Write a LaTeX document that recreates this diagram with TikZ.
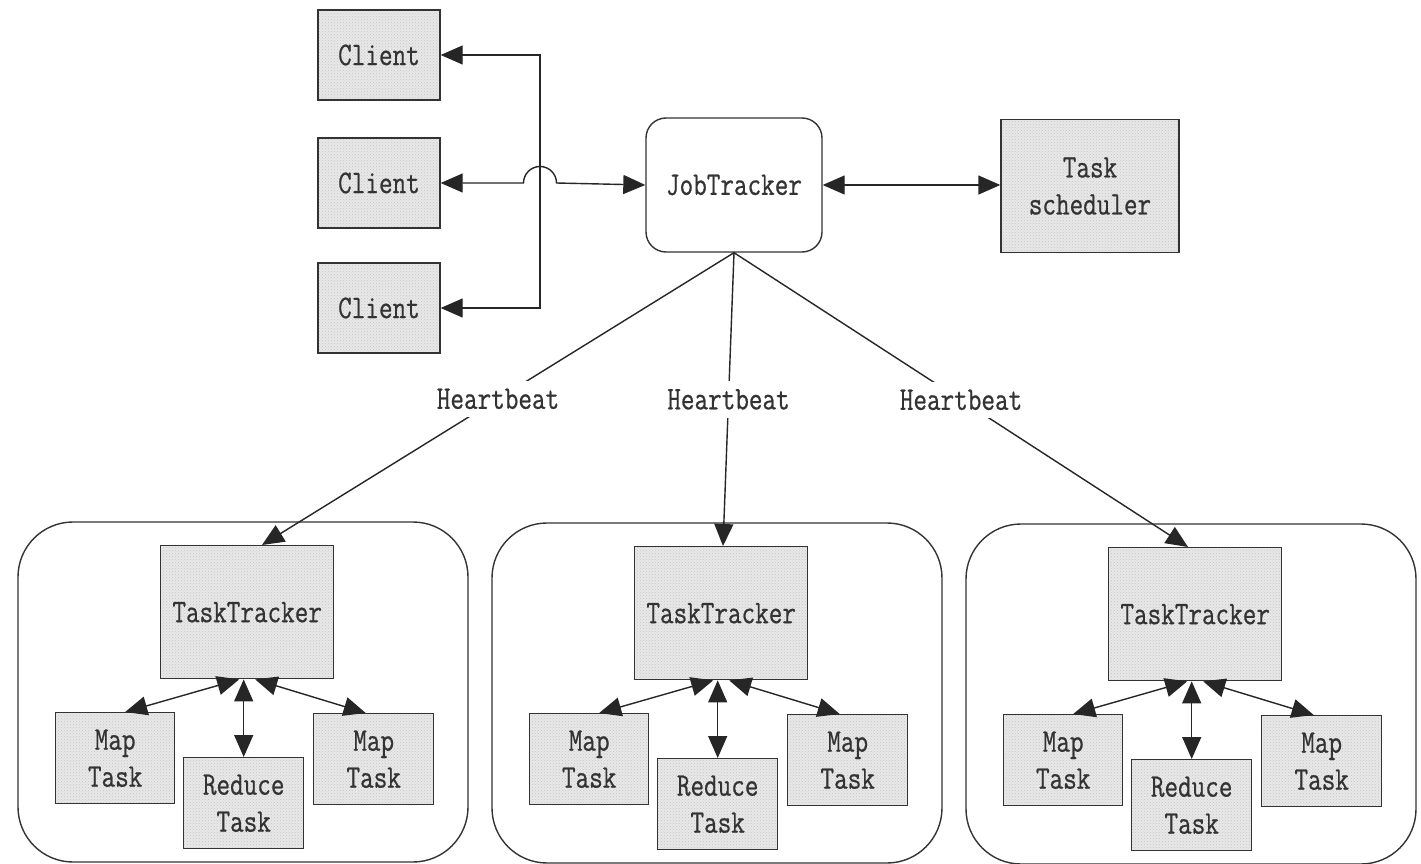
\documentclass[tikz,border=0pt]{standalone}
\usepackage{fontspec}
\setmonofont[FakeStretch=0.8,FakeBold=0.6]{Latin Modern Mono}
\usetikzlibrary{arrows.meta,patterns}
\tikzset{
  txt/.style={font=\ttfamily\fontsize{33}{37}\selectfont, text=black!80, align=center},
  gbox/.style={txt, draw=black!80, line width=1.4pt, preaction={fill=black!9},
    pattern=crosshatch dots, pattern color=black!22, inner sep=0pt},
  rbox/.style={txt, draw=black!80, line width=1.4pt, rounded corners=20pt, fill=white, inner sep=0pt},
  grp/.style={draw=black!80, line width=1.4pt, rounded corners=55pt},
  con/.style={draw=black!85, line width=1.4pt},
  arr/.style={con, -{Triangle[length=22pt,width=19pt]}},
  dbl/.style={con, {Triangle[length=22pt,width=19pt]}-{Triangle[length=22pt,width=19pt]}},
  hb/.style={txt, fill=white, inner xsep=1pt, inner ysep=8pt},
}
\newcommand{\tgroup}[3]{%
  \draw[grp] (#2-142,#3-23) rectangle (#2+308,#3+317);
  \node[gbox, minimum width=173pt, minimum height=133pt, anchor=north west] (#1tt) at (#2,#3) {TaskTracker};
  \node[gbox, minimum width=119pt, minimum height=91pt, anchor=north west] (#1ml) at (#2-105,#3+167) {Map\\Task};
  \node[gbox, minimum width=120pt, minimum height=91pt, anchor=north west] (#1rd) at (#2+23,#3+212) {Reduce\\Task};
  \node[gbox, minimum width=120pt, minimum height=91pt, anchor=north west] (#1mr) at (#2+153,#3+168) {Map\\Task};
  \draw[dbl] ([xshift=-8pt]#1tt.south) -- ([xshift=10pt]#1ml.north);
  \draw[dbl] (#1tt.south -| #1rd.north) -- (#1rd.north);
  \draw[dbl] ([xshift=8pt]#1tt.south) -- ([xshift=-8pt]#1mr.north);
}
\begin{document}
\begin{tikzpicture}[x=1pt,y=-1pt]
\useasboundingbox[fill=white] (0,0) rectangle (1421,864);
% clients
\node[gbox, minimum width=122pt, minimum height=90pt] (c1) at (379,55) {Client};
\node[gbox, minimum width=122pt, minimum height=90pt] (c2) at (379,183) {Client};
\node[gbox, minimum width=122pt, minimum height=90pt] (c3) at (379,308) {Client};
% job tracker and scheduler
\node[rbox, minimum width=176pt, minimum height=134pt] (jt) at (734,185) {JobTracker};
\node[gbox, minimum width=178pt, minimum height=133pt] (ts) at (1090,186) {Task\\scheduler};
% client bus
\coordinate (b1) at (540,55);
\coordinate (b3) at (540,308);
\draw[dbl] (c1.east) -- (b1) -- (b3) -- (c3.east);
\draw[dbl] (c2.east) -- (523.5,183) arc[start angle=180, end angle=0, radius=16.5pt] -- (jt.west);
\draw[dbl] (jt.east |- 0,185) -- (ts.west |- 0,185);
% groups
\tgroup{a}{160}{545}
\tgroup{b}{634}{546}
\tgroup{c}{1108}{547}
% heartbeats
\draw[arr] (jt.south) -- node[hb]{Heartbeat} ([xshift=102pt]att.north west);
\draw[arr] (jt.south) -- node[hb]{Heartbeat} ([xshift=89pt]btt.north west);
\draw[arr] (jt.south) -- node[hb]{Heartbeat} ([xshift=80pt]ctt.north west);
\end{tikzpicture}
\end{document}
